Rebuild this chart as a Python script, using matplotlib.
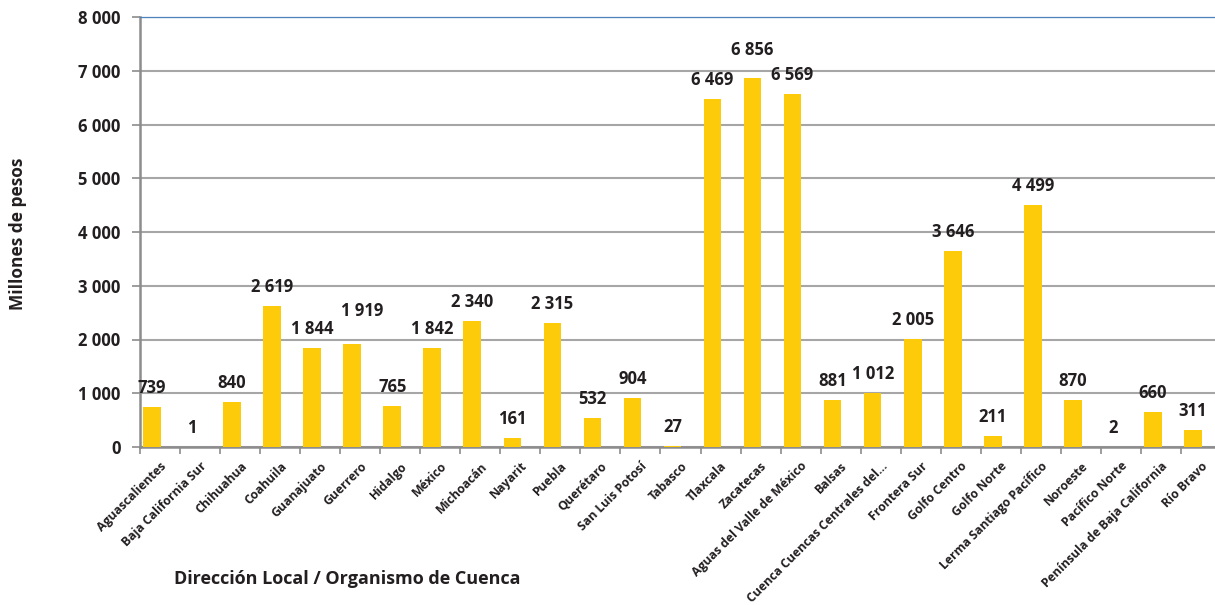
import numpy as np
from matplotlib import pyplot as plt

categorias = ["Aguascalientes", "Baja California Sur", "Chihuahua", "Coahuila", "Guanajuato",
              "Guerrero", "Hidalgo", "México", "Michoacán", "Nayarit", "Puebla", "Querétaro",
              "San Luis Potosí", "Tabasco", "Tlaxcala", "Zacatecas", "Aguas del Valle de México",
              "Balsas", "Cuenca Cuencas Centrales del…", "Frontera Sur", "Golfo Centro",
              "Golfo Norte", "Lerma Santiago Pacífico", "Noroeste", "Pacífico Norte",
              "Península de Baja California", "Río Bravo"]
valores = [739, 1, 840, 2619, 1844, 1919, 765, 1842, 2340, 161, 2315, 532, 904, 27,
           6469, 6856, 6569, 881, 1012, 2005, 3646, 211, 4499, 870, 2, 660, 311]
yticks = [0, 1000, 2000, 3000, 4000, 5000, 6000, 7000, 8000]

def fmt(v):
    return "{:,}".format(v).replace(",", " ")

plt.rcParams['font.family'] = ['Open Sans', 'DejaVu Sans']
texto = "#231f20"
amarillo = "#fecb0a"
gris = "#8c8c8c"

fig = plt.figure(figsize=(12.15, 6.05), dpi=100)
ax = fig.add_axes([140 / 1215, 1 - 447 / 605, 1081 / 1215, 430 / 605])

x = np.arange(len(categorias))
xb = x - 0.2  # the bars sit left of the category centre
ax.bar(xb, valores, width=0.44, color=amarillo, zorder=3)
ax.set_xlim(-0.5, len(categorias) - 0.5)
ax.set_ylim(0, 8000)

# excel nudged a couple of labels
ajustes = {1919: (10, 14), 6856: (0, 9)}
for i, v in enumerate(valores):
    dx, dy = ajustes.get(v, (0, 0))
    ax.annotate(fmt(v), (xb[i], v), xytext=(dx, 19 + dy), textcoords="offset pixels",
                ha="center", va="center", fontsize=12, fontweight="bold", color=texto)

ax.set_yticks(yticks)
ax.set_yticklabels([fmt(t) for t in yticks], fontsize=12, fontweight="bold", color=texto)
ax.set_xticks(np.arange(len(categorias) + 1) - 0.5, minor=True)
ax.set_xticks(x)
ax.set_xticklabels(categorias, rotation=45, ha="right", rotation_mode="anchor",
                   fontsize=8.8, fontweight="bold", color=texto)
ax.tick_params(axis="x", which="major", length=0, pad=9)
ax.tick_params(axis="x", which="minor", length=5, color=gris, width=1.2)
ax.tick_params(axis="y", length=6, color=gris, width=1.2, pad=8)

ax.grid(axis="y", color="#a6a6a6", linewidth=1.5, zorder=0)
for s in ["left", "bottom"]:
    ax.spines[s].set_color(gris)
    ax.spines[s].set_linewidth(1.8)
ax.spines["right"].set_visible(False)
ax.spines["top"].set_color("#4f81bd")
ax.spines["top"].set_linewidth(0.9)

fig.text(18 / 1215, 1 - 234 / 605, "Millones de pesos", rotation=90, ha="center", va="center",
         fontsize=12.5, fontweight="bold", color=texto)
fig.text(347 / 1215, 1 - 579 / 605, "Dirección Local / Organismo de Cuenca", ha="center",
         va="center", fontsize=13, fontweight="bold", color=texto)

fig.savefig("out.png", dpi=100)
